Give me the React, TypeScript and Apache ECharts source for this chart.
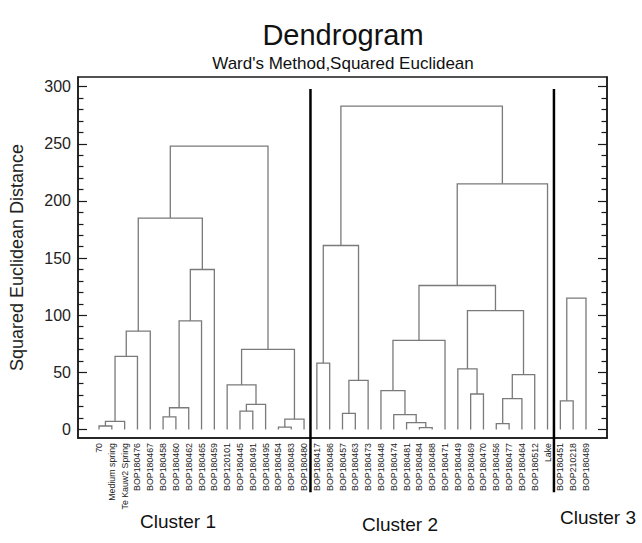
import React, { useEffect, useRef } from "react";
import * as echarts from "echarts";

// Leaf labels in dendrogram order
const leafLabels: string[] = [
  "70", "Medium spring", "Te Kauw2 Spring", "BOP180476", "BOP180467", "BOP180458",
  "BOP180460", "BOP180462", "BOP180465", "BOP180459", "BOP120101", "BOP180445",
  "BOP180491", "BOP180495", "BOP180454", "BOP180483", "BOP180480",
  "BOP180417", "BOP180486", "BOP180457", "BOP180463", "BOP180473", "BOP180448",
  "BOP180474", "BOP180481", "BOP180484", "BOP180488", "BOP180471", "BOP180449",
  "BOP180469", "BOP180470", "BOP180456", "BOP180477", "BOP180464", "BOP180512", "Lake",
  "BOP180451", "BOP210218", "BOP180489",
];

// Linkage: node ids 0..38 are leaves, merge k creates node 39 + k
const mergeLeft: number[] = [
  0, 39, 40, 41, 5, 43, 44, 45, 42, 11, 48, 10, 14, 51, 50, 47,
  17, 19, 56, 55, 25, 24, 23, 22, 62, 29, 28, 31, 66, 67, 65, 63, 70, 58,
  36, 73,
];
const mergeRight: number[] = [
  1, 2, 3, 4, 6, 7, 8, 9, 46, 12, 13, 49, 15, 16, 52, 53,
  18, 20, 21, 57, 26, 59, 60, 61, 27, 30, 64, 32, 33, 34, 68, 69, 35, 71,
  37, 38,
];
const mergeHeight: number[] = [
  3, 7, 64, 86, 11, 19, 95, 140, 185, 16, 22, 39, 2, 9, 70, 248,
  58, 14, 43, 161, 1.5, 6, 13, 34, 78, 31, 53, 5, 27, 48, 104, 126, 215, 283,
  25, 115,
];

// Cluster divider positions (between leaves) and their vertical extent
const clusterBreaks: number[] = [16.5, 35.5];
const dividerTop = 298;
const dividerBottom = -55;

const majorTicks: number[] = [0, 50, 100, 150, 200, 250, 300];
const minorTicks: number[] = [];
for (let v = 10; v < 300; v += 10) if (v % 50 !== 0) minorTicks.push(v);

const clusterNames: string[] = ["Cluster 1", "Cluster 2", "Cluster 3"];

const FONT = "'Liberation Sans', Arial, sans-serif";

export default function App() {
  const ref = useRef<HTMLDivElement>(null);

  useEffect(() => {
    if (!ref.current) return;
    const chart = echarts.init(ref.current, undefined, { renderer: "svg" });

    const nodeX: number[] = leafLabels.map((_, i) => i);
    const nodeH: number[] = leafLabels.map(() => 0);
    const links: number[][] = [];
    mergeLeft.forEach((l, k) => {
      const r = mergeRight[k];
      const h = mergeHeight[k];
      links.push([nodeX[l], nodeH[l], nodeX[r], nodeH[r], h]);
      nodeX.push((nodeX[l] + nodeX[r]) / 2);
      nodeH.push(h);
    });

    const leafIdx = leafLabels.map((_, i) => i);

    const yBase = {
      type: "value",
      min: -7.5,
      max: 308.5,
      splitLine: { show: false },
    };
    const tickStyle = { color: "#1a1a1a", width: 1.2 };
    const lineStyle = { color: "#1a1a1a", width: 1.5 };

    chart.setOption({
      animation: false,
      backgroundColor: "#ffffff",
      grid: {
        left: 78,
        right: 35,
        top: 77,
        bottom: 105,
        show: true,
        borderColor: "#1a1a1a",
        borderWidth: 1.5,
        backgroundColor: "transparent",
      },
      xAxis: {
        type: "value",
        min: -1.64,
        max: 39.64,
        splitLine: { show: false },
        axisLine: { show: true, onZero: false, lineStyle },
        axisTick: { show: false },
        axisLabel: {
          customValues: leafIdx,
          formatter: (v: number) => leafLabels[Math.round(v)] ?? "",
          rotate: 90,
          fontSize: 8.8,
          fontFamily: FONT,
          color: "#222",
          margin: 5,
        },
      },
      yAxis: [
        {
          ...yBase,
          position: "left",
          name: "Squared Euclidean Distance",
          nameLocation: "middle",
          nameRotate: 90,
          nameGap: 52,
          nameTextStyle: { fontSize: 18, fontFamily: FONT, color: "#222" },
          axisLine: { show: true, onZero: false, lineStyle },
          axisTick: {
            show: true,
            inside: true,
            length: 9,
            customValues: majorTicks,
            lineStyle: tickStyle,
          },
          axisLabel: {
            customValues: majorTicks,
            fontSize: 16,
            fontFamily: FONT,
            color: "#222",
            margin: 7,
          },
        },
        {
          ...yBase,
          position: "left",
          axisLine: { show: false, onZero: false },
          axisTick: {
            show: true,
            inside: true,
            length: 5.5,
            customValues: minorTicks,
            lineStyle: tickStyle,
          },
          axisLabel: { show: false },
        },
        {
          ...yBase,
          position: "right",
          axisLine: { show: true, onZero: false, lineStyle },
          axisTick: {
            show: true,
            inside: true,
            length: 9,
            customValues: majorTicks,
            lineStyle: tickStyle,
          },
          axisLabel: { show: false },
        },
        {
          ...yBase,
          position: "right",
          axisLine: { show: false, onZero: false },
          axisTick: {
            show: true,
            inside: true,
            length: 5.5,
            customValues: minorTicks,
            lineStyle: tickStyle,
          },
          axisLabel: { show: false },
        },
      ],
      series: [
        {
          type: "custom",
          name: "links",
          yAxisIndex: 0,
          clip: false,
          encode: { x: [0, 2], y: [1, 3, 4] },
          data: links,
          renderItem: (_params: any, api: any) => {
            const xl = api.value(0);
            const hl = api.value(1);
            const xr = api.value(2);
            const hr = api.value(3);
            const h = api.value(4);
            const pts = [
              api.coord([xl, hl]),
              api.coord([xl, h]),
              api.coord([xr, h]),
              api.coord([xr, hr]),
            ];
            return {
              type: "polyline",
              shape: { points: pts },
              style: { stroke: "#7a7a7a", fill: "none", lineWidth: 1.3 },
            };
          },
        },
        {
          type: "custom",
          name: "dividers",
          yAxisIndex: 0,
          clip: false,
          encode: { x: 0, y: [1, 2] },
          data: clusterBreaks.map((b) => [b, dividerTop, dividerBottom]),
          renderItem: (_params: any, api: any) => {
            const p1 = api.coord([api.value(0), api.value(1)]);
            const p2 = api.coord([api.value(0), api.value(2)]);
            return {
              type: "line",
              shape: { x1: p1[0], y1: p1[1], x2: p2[0], y2: p2[1] },
              style: { stroke: "#000", lineWidth: 2.5 },
            };
          },
        },
      ],
      graphic: [
        {
          type: "text",
          x: 343,
          y: 35,
          style: {
            text: "Dendrogram",
            fontSize: 29,
            fontFamily: FONT,
            fill: "#111",
            textAlign: "center",
            textVerticalAlign: "middle",
          },
        },
        {
          type: "text",
          x: 343,
          y: 63,
          style: {
            text: "Ward's Method,Squared Euclidean",
            fontSize: 17,
            fontFamily: FONT,
            fill: "#111",
            textAlign: "center",
            textVerticalAlign: "middle",
          },
        },
        {
          type: "text",
          x: 178,
          y: 521,
          style: {
            text: clusterNames[0],
            fontSize: 19,
            fontFamily: FONT,
            fill: "#111",
            textAlign: "center",
            textVerticalAlign: "middle",
          },
        },
        {
          type: "text",
          x: 400,
          y: 524,
          style: {
            text: clusterNames[1],
            fontSize: 19,
            fontFamily: FONT,
            fill: "#111",
            textAlign: "center",
            textVerticalAlign: "middle",
          },
        },
        {
          type: "text",
          x: 598,
          y: 517,
          style: {
            text: clusterNames[2],
            fontSize: 19,
            fontFamily: FONT,
            fill: "#111",
            textAlign: "center",
            textVerticalAlign: "middle",
          },
        },
      ],
    });

    return () => chart.dispose();
  }, []);

  return (
    <div
      ref={ref}
      style={{ position: "fixed", left: 0, top: 0, width: 642, height: 543, background: "#fff" }}
    />
  );
}
